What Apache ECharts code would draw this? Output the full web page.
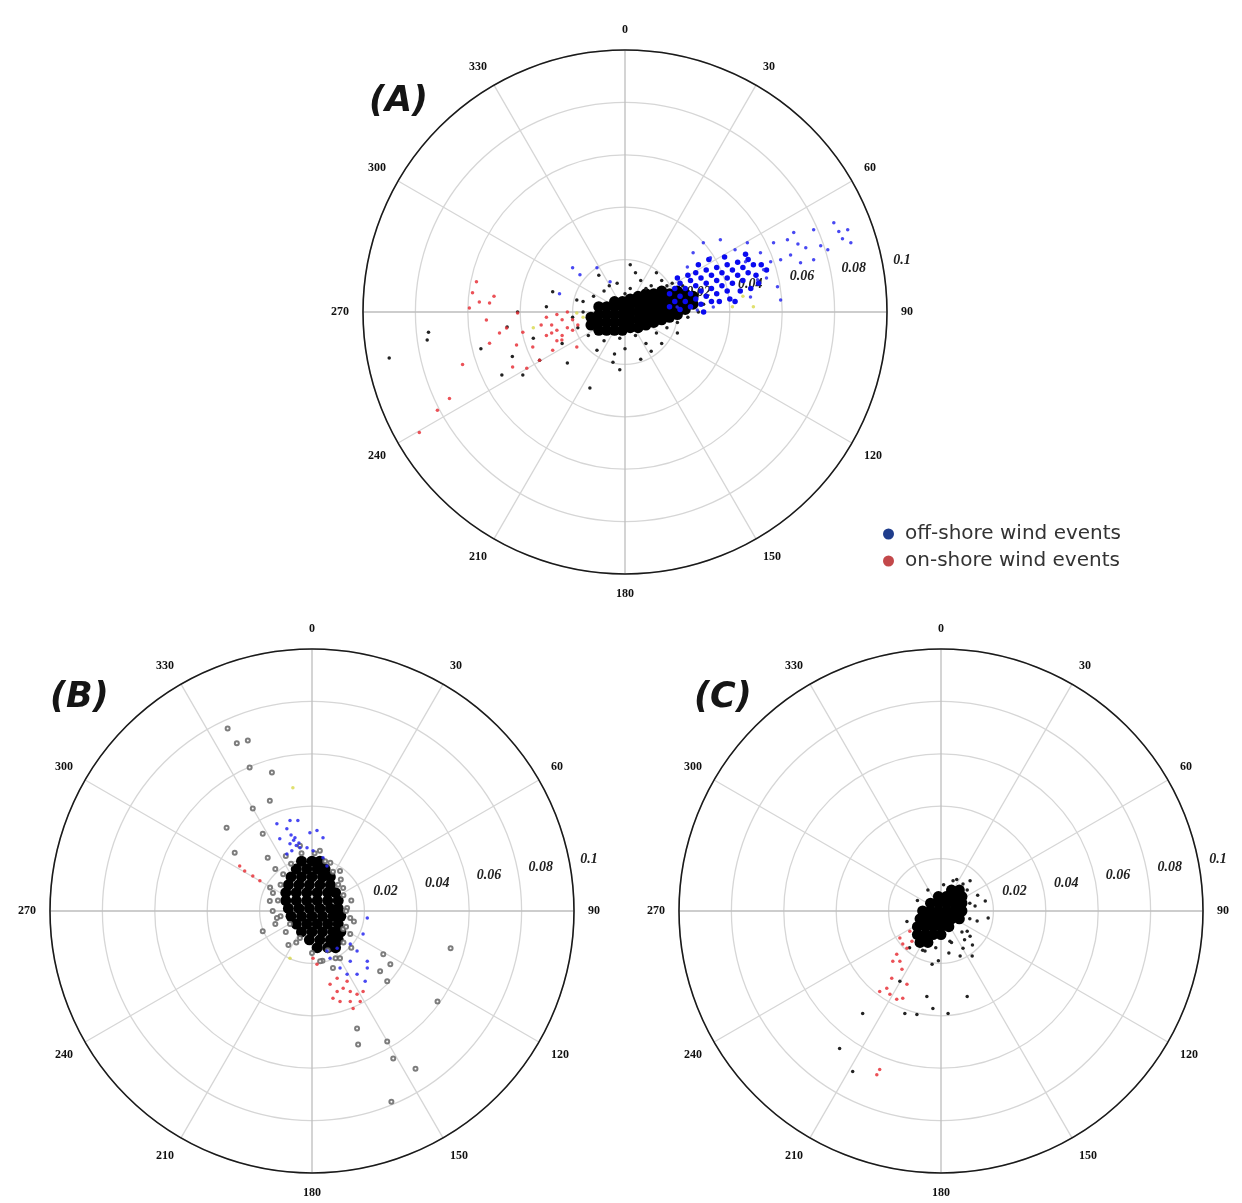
<!DOCTYPE html>
<html>
<head>
<meta charset="utf-8">
<script src="https://cdn.jsdelivr.net/npm/echarts@6/dist/echarts.min.js"></script>
<style>html,body{margin:0;padding:0;background:#fff}#c{width:1242px;height:1203px}</style>
</head>
<body>
<div id="c"></div>
<script>
// Wind-vector components [east, north], in units of 0.001
const angleTicks = [0, 30, 60, 90, 120, 150, 180, 210, 240, 270, 300, 330];
const radiusTicks = [0.02, 0.04, 0.06, 0.08, 0.1];
const panelLabels = ['(A)', '(B)', '(C)'];
const legendNames = ['off-shore wind events', 'on-shore wind events'];

// ---- Panel A ----
const aBlackCore = [
  [-13,-5],[-13,-2],[-10,-7],[-10,-4],[-10,-1],[-10,2],[-7,-7],[-7,-4],[-7,-1],[-7,2],
  [-4,-7],[-4,-4],[-4,-1],[-4,2],[-4,4],[-1,-7],[-1,-4],[-1,-1],[-1,2],[-1,4],
  [2,-6],[2,-3],[2,0],[2,3],[2,5],[5,-6],[5,-3],[5,0],[5,3],[5,6],
  [8,-5],[8,-2],[8,1],[8,4],[8,7],[11,-4],[11,-1],[11,2],[11,5],[11,7],
  [14,-3],[14,0],[14,3],[14,6],[14,8],[17,-2],[17,1],[17,4],[17,7],
  [20,-1],[20,2],[20,5],[20,8],[23,1],[23,4],[23,7],[26,3],[26,6]
];
const aBlack = [
  [-8,8],[-3,11],[2,9],[6,12],[10,10],[14,12],[-12,6],[-16,4],[4,15],[12,15],[18,11],[0,7],
  [8,9],[16,10],[22,10],[-6,10],[-14,-9],[-8,-11],[-2,-10],[4,-9],[8,-12],[12,-8],[16,-6],
  [20,-4],[0,-14],[-4,-16],[10,-15],[24,-2],[28,0],[30,3],[-18,-6],[-20,-2],[-16,0],
  [-13.4,-29],[-4.6,-19.2],[-22,-19.5],[-45,-5.7],[-41,0],[-75,-7.7],[-75.5,-10.7],[-90,-17.6],
  [-27.6,7.7],[-18.4,4.6],[-10.7,-14.6],[-43,-17],[-39,-24],[-47,-24],[6,-18],[14,-12],
  [-24,-12],[-30,2],[-10,14],[2,18],[20,-8],[-2,-22],[-32.6,-18.4],[-35,-10],[-55,-14]
];
const aBlueDense = [
  [17,2],[17,7],[19,4],[19,9],[21,1],[21,6],[21,11],[23,4],[23,9],[25,2],[25,7],[25,12],
  [27,5],[27,10],[27,15],[29,3],[29,8],[29,13],[31,6],[31,11],[31,16],[33,4],[33,9],[33,14],
  [35,7],[35,12],[35,17],[37,10],[37,15],[39,8],[39,13],[39,18],[41,11],[41,16],[43,14],
  [43,19],[45,12],[45,17],[47,15],[47,20],[49,18],[36,4],[40,5],[44,8],[28,18],[32,20],
  [24,14],[20,13],[46,22],[50,14],[52,18],[51,11],[42,4],[30,0],[48,9],[38,21],[54,16]
];
const aBlue = [
  [26,22.6],[36.4,27.6],[46.7,26.4],[51.7,22.6],[56.7,26.4],[62,27.6],[64.4,30.3],[72,31.4],
  [79.7,34.1],[85,31.4],[86.2,26.4],[77.4,23.8],[72,19.9],[67,18.8],[59.4,19.9],[52.9,16.1],
  [50.6,12.3],[58.2,9.6],[59.4,4.6],[47.9,5.7],[29.9,26.4],[23.8,17.2],[19.9,1.9],[27.6,0.8],
  [33.7,1.9],[81.6,30.7],[74.7,25.3],[69,24.5],[63.2,21.8],[55.6,19.2],[46,19.2],[42,23.8],
  [32.6,20.7],[-20,16.9],[-17.2,14.2],[-10.7,16.9],[-5.7,11.5],[-25,7],[54,13],[66,26],[83,28]
];
const aRed = [
  [-30,-2],[-28,-5],[-26,-1],[-26,-7],[-24,-3],[-22,-6],[-22,0],[-20,-3],[-28,-8],[-24,-9],
  [-20,-7],[-18,-5],[-32,-5],[-30,-9],[-26,-11],
  [-56.7,11.5],[-58.2,7.3],[-55.6,3.8],[-59.4,1.5],[-51.7,3.4],[-41,-0.4],[-45.2,-6.1],
  [-39,-7.7],[-41.4,-12.6],[-51.7,-11.9],[-35.2,-13.4],[-32.6,-18.4],[-37.5,-21.5],[-42.9,-21],
  [-27.6,-14.6],[-67,-33],[-78.5,-46],[-52.9,-3.1],[-47.9,-8],[-24.1,-10.7],[-18.4,-13.4],
  [-71.6,-37.5],[-50,6],[-62,-20]
];
const aOther = [[41,2],[49,2],[45,6],[-18.4,-0.4],[-16,-2],[-35,-6]];

// ---- Panel B ----
const bBlackCore = [
  [-4,19],[0,19],[3,19],[-6,16],[-2,16],[2,16],[5,16],[-8,13],[-4,13],[0,13],[4,13],[7,13],
  [-9,10],[-5,10],[-1,10],[3,10],[7,10],[-10,7],[-6,7],[-2,7],[2,7],[6,7],[9,7],
  [-10,4],[-6,4],[-2,4],[2,4],[6,4],[10,4],[-9,1],[-5,1],[-1,1],[3,1],[7,1],[10,1],
  [-8,-2],[-4,-2],[0,-2],[4,-2],[8,-2],[11,-2],[-6,-5],[-2,-5],[2,-5],[6,-5],[10,-5],
  [-4,-8],[0,-8],[4,-8],[8,-8],[11,-8],[-1,-11],[3,-11],[7,-11],[10,-11],[2,-14],[6,-14],[9,-14]
];
const bBlack = [
  [-32.2,69.7],[-28.7,64],[-24.5,65.1],[-23.8,54.8],[-15.3,52.9],[-16.1,42.1],[-22.6,39.1],
  [-32.6,31.8],[-29.5,22.2],[-16.9,20.3],[-18.8,29.5],[13.4,1.1],[14.6,-2.7],[11.9,-6.9],
  [14.6,-8.8],[-12,10],[-13,4],[-12,-2],[-10,-8],[-6,-12],[0,-16],[6,-15],[12,-12],[13,-6],
  [13,0],[12,6],[10,10],[8,15],[5,19],[1,22],[-4,22],[-8,18],[-11,14],[-14,16],[-16,9],
  [-15,0],[-14,-5],[-9,-13],[4,-19],[9,-18],[15,-14],[16,-4],[15,4],[11,12],
  [26,-23],[28.7,-26.8],[29.9,-20.3],[27.2,-16.5],[17.2,-44.8],[28.7,-49.8],[31,-56.3],
  [39.5,-60.2],[11.9,8.8],[52.9,-14.2],[47.9,-34.5],[30.3,-72.8],[17.6,-51],[-10,21],[3,23],
  [7,18.4],[10.7,15.3],[-4.6,24.9],[-18.8,-7.7],[-16.1,3.8],[-14.9,6.9],[3.1,-19.2],[8,-21.8],
  [10.7,-18],[-4.6,-10.3],[-8.4,-5],[-13.4,-2.7]
];
const bBlue = [
  [-8.4,34.5],[-5.4,34.5],[-9.6,31.4],[-6.5,28],[-8.4,25.7],[-7.7,23],[-9.6,21.8],[-0.8,29.9],
  [1.9,30.7],[4.2,28],[-1.9,24.1],[0.4,23],[4.2,20.3],[5.7,17.2],[-12.3,27.6],[-13.4,33.3],
  [-4.6,24.1],[-7,27],[-6,25],[-8,29],[-5,26],
  [14.6,-12.6],[17.2,-15.3],[21.1,-2.7],[19.5,-8.8],[21.1,-19.2],[10.7,-21.8],[13.4,-24.1],
  [17.2,-24.1],[6.9,-18],[9.6,-14.2],[21.1,-21.8],[14.6,-19.2],[5.7,-15.3],[20.3,-26.8]
];
const bRed = [
  [6.9,-28],[9.6,-30.7],[11.9,-29.5],[14.6,-30.7],[17.2,-31.8],[8,-33.3],[10.7,-34.5],
  [14.6,-34.5],[18.4,-34.5],[15.7,-37.2],[19.5,-30.7],[13.4,-26.8],[9.6,-25.7],
  [-25.7,15.3],[-22.6,13.4],[-19.9,11.5],[-27.6,17.2],[0.4,-18],[1.9,-20.3]
];
const bOther = [[-8.4,-18],[-7.3,47]];

// ---- Panel C ----
const cBlackCore = [
  [4,8],[7,8],[-1,5.5],[2,5.5],[5,5.5],[8,5.5],[-4,3],[-1,3],[2,3],[5,3],[8,3],
  [-7,0],[-4,0],[-1,0],[2,0],[5,0],[8,0],[-8,-3],[-5,-3],[-2,-3],[1,-3],[4,-3],[7,-3],
  [-9,-6],[-6,-6],[-3,-6],[0,-6],[3,-6],[-9,-9],[-6,-9],[-3,-9],[0,-9],[-8,-12],[-5,-12]
];
const cBlack = [
  [8.4,10.3],[11.1,11.5],[4.6,11.5],[18,-2.7],[13.8,-3.8],[10,-7.7],[8.4,-14.2],[11.9,-17.2],
  [7.3,-17.2],[-3.4,-20.3],[-5.4,-32.6],[10,-32.6],[-29.9,-39.1],[-13.8,-39.1],[-9.2,-39.5],
  [2.7,-39.1],[-3.1,-37.2],[-38.7,-52.5],[-33.7,-61.3],[-15.7,-26.8],[13,1.9],[11.1,-9.6],
  [3.4,-11.5],[-6.1,-15.3],[16.9,3.8],[-12,-14],[-13,-4],[-9,4],[-5,8],[1,10],[6,12],[10,8],
  [11,3],[11,-3],[8,-8],[4,-12],[-2,-14],[-7,-15],[14,6],[9,-11],[12,-13],[3,-16],[-1,-19]
];
const cRed = [
  [-24.5,-62.5],[-23.4,-60.5],[-15.7,-19.2],[-16.9,-16.5],[-13,-14.2],[-14.9,-22.2],
  [-18.8,-25.7],[-20.7,-29.5],[-23.4,-30.7],[-19.5,-31.8],[-16.9,-33.7],[-14.6,-33.3],
  [-15.7,-10.3],[-14.6,-12.6],[-18.4,-19.2],[-13,-28],[-11.9,-7.7],[-11.1,-11.5]
];

// convert [east, north] (x0.001) to ECharts polar [radius, compass angle]
function toPolar(list) {
  return list.map(function (p) {
    const u = p[0] * 0.001, v = p[1] * 0.001;
    let t = Math.atan2(u, v) * 180 / Math.PI;
    if (t < 0) t += 360;
    return [Math.sqrt(u * u + v * v), t];
  });
}

const centers = [[625, 312], [312, 911], [941, 911]];
const R = 262;
const panels = [
  {core: aBlackCore, black: aBlack, blueDense: aBlueDense, blue: aBlue, red: aRed, other: aOther, open: false},
  {core: bBlackCore, black: bBlack, blueDense: [], blue: bBlue, red: bRed, other: bOther, open: true},
  {core: cBlackCore, black: cBlack, blueDense: [], blue: [], red: cRed, other: [], open: false}
];

const polar = [], angleAxis = [], radiusAxis = [], series = [], title = [];
const titlePos = [[369, 84], [50, 680], [694, 680]];

centers.forEach(function (c, i) {
  polar.push({center: c, radius: R});
  angleAxis.push({
    polarIndex: i, type: 'value', min: 0, max: 360, interval: 30, startAngle: 90, clockwise: true,
    axisLine: {lineStyle: {color: '#1a1a1a', width: 1.6}},
    axisTick: {show: false},
    axisLabel: {
      margin: 14, color: '#111', fontFamily: 'Liberation Serif', fontWeight: 'bold', fontSize: 12,
      formatter: function (v) { return angleTicks.indexOf(v) >= 0 ? String(v) : ''; }
    },
    splitLine: {lineStyle: {color: ['#bdbdbd', '#d6d6d6', '#d6d6d6'], width: 1.3}}
  });
  radiusAxis.push({
    polarIndex: i, type: 'value', min: 0, max: 0.1, interval: 0.02,
    axisLine: {show: false}, axisTick: {show: false}, axisLabel: {show: false},
    splitLine: {lineStyle: {color: '#d6d6d6', width: 1.3}}
  });
  title.push({
    text: panelLabels[i], left: titlePos[i][0], top: titlePos[i][1], padding: 0,
    textStyle: {fontSize: 35, fontStyle: 'italic', fontWeight: 'bold', fontFamily: 'DejaVu Sans', color: '#151515'}
  });
});
// overlay polar systems that only carry the radius tick labels (drawn along ~9 degrees)
centers.forEach(function (c, i) {
  polar.push({center: c, radius: R});
  angleAxis.push({polarIndex: 3 + i, type: 'value', min: 0, max: 360, startAngle: 9, show: false});
  radiusAxis.push({
    polarIndex: 3 + i, type: 'value', min: 0, max: 0.1, interval: 0.02, z: 0,
    axisLine: {show: false}, axisTick: {show: false}, splitLine: {show: false},
    axisLabel: {
      margin: 4, align: 'left', verticalAlign: 'bottom', color: '#222', padding: [0, 0, 0, 10],
      fontFamily: 'Liberation Serif', fontStyle: 'italic', fontWeight: 'bold', fontSize: 14,
      formatter: function (v) {
        const k = radiusTicks.findIndex(function (t) { return Math.abs(t - v) < 1e-9; });
        return k < 0 ? '' : (v >= 0.0999 ? '0.1' : v.toFixed(2));
      }
    }
  });
});

panels.forEach(function (p, i) {
  const base = {type: 'scatter', coordinateSystem: 'polar', polarIndex: i, silent: true, animation: false};
  series.push(Object.assign({}, base, {name: 'black-core', data: toPolar(p.core), symbolSize: 11,
    itemStyle: {color: '#000', opacity: 1}}));
  series.push(Object.assign({}, base, {name: 'black', data: toPolar(p.black),
    symbol: p.open ? 'emptyCircle' : 'circle', symbolSize: p.open ? 4 : 3.5,
    itemStyle: p.open ? {color: '#666', borderWidth: 0.7, opacity: 0.85} : {color: '#222', opacity: 1}}));
  series.push(Object.assign({}, base, {name: legendNames[0], data: toPolar(p.blueDense), symbolSize: 5.5,
    itemStyle: {color: '#0a0af0', opacity: 1}}));
  series.push(Object.assign({}, base, {name: legendNames[0], data: toPolar(p.blue), symbolSize: 3.5,
    itemStyle: {color: '#2828f0', opacity: 0.85}}));
  series.push(Object.assign({}, base, {name: legendNames[1], data: toPolar(p.red), symbolSize: 3.5,
    itemStyle: {color: '#e8333a', opacity: 0.85}}));
  series.push(Object.assign({}, base, {name: 'other', data: toPolar(p.other), symbolSize: 3.5,
    itemStyle: {color: '#d8d84a', opacity: 0.8}}));
});

const chart = echarts.init(document.getElementById('c'), null, {renderer: 'canvas'});
chart.setOption({
  backgroundColor: '#fff',
  animation: false,
  title: title,
  legend: {
    data: [
      {name: legendNames[0], itemStyle: {color: '#1f3d8c'}},
      {name: legendNames[1], itemStyle: {color: '#b8282a'}}
    ],
    orient: 'vertical', left: 878, top: 519, icon: 'circle', itemWidth: 11, itemHeight: 11, itemGap: 7,
    textStyle: {fontSize: 20, fontFamily: 'DejaVu Sans', color: '#333', padding: [0, 0, 0, 6]}
  },
  polar: polar,
  angleAxis: angleAxis,
  radiusAxis: radiusAxis,
  series: series
});
</script>
</body>
</html>
